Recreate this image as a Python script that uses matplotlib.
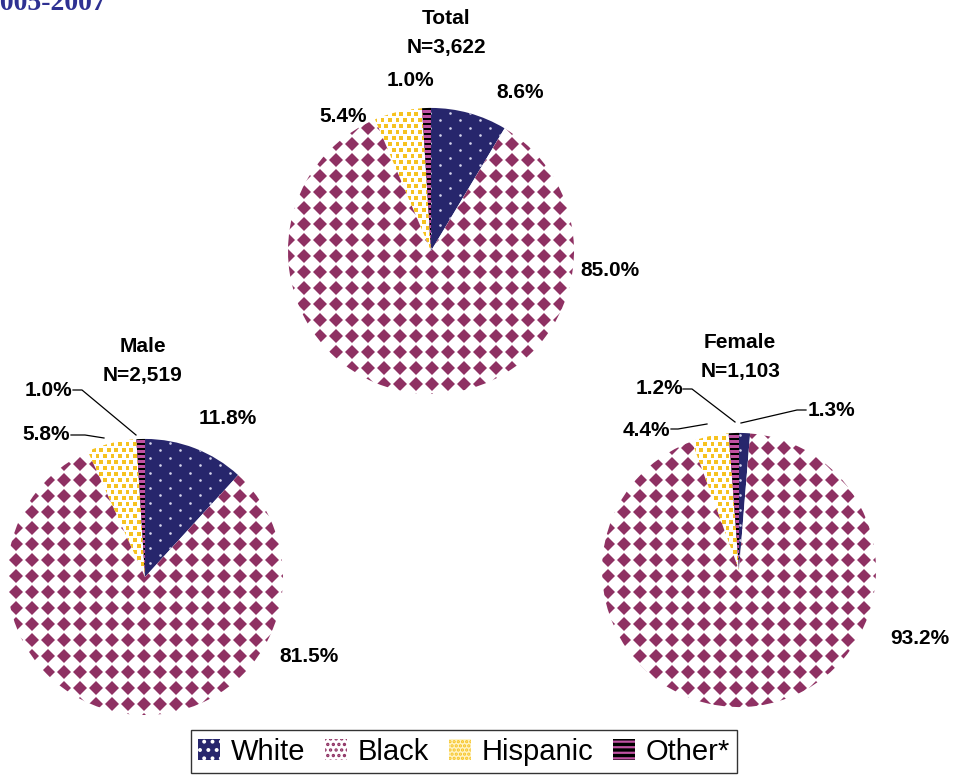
import numpy as np
import matplotlib
matplotlib.use("Agg")
import matplotlib.pyplot as plt
from matplotlib.collections import PolyCollection
from matplotlib.patches import Patch

# Race/ethnicity shares (%) by group, slices ordered clockwise from 12 o'clock
races = ["White", "Black", "Hispanic", "Other*"]
groups = ["Total", "Male", "Female"]
counts = ["3,622", "2,519", "1,103"]
total_pct = [8.6, 85.0, 5.4, 1.0]
male_pct = [11.8, 81.5, 5.8, 1.0]
female_pct = [1.3, 93.2, 4.4, 1.2]

NAVY = "#27266c"
MAROON = "#8f3163"
GOLD = "#f6c21f"
PINK = "#c052a2"

plt.rcParams["font.family"] = ["Liberation Sans", "DejaVu Sans"]
plt.rcParams["hatch.linewidth"] = 1.6

W, H = 956, 776
fig = plt.figure(figsize=(W / 100, H / 100), dpi=100)
ax = fig.add_axes([0, 0, 1, 1])


def lattice(x0, x1, y0, y1, dx, dy, stagger=True):
    pts = []
    for j in np.arange(np.floor(y0 / dy) - 1, np.ceil(y1 / dy) + 2):
        off = (j % 2) * dx / 2 if stagger else 0
        xs = np.arange(np.floor(x0 / dx) - 1, np.ceil(x1 / dx) + 2) * dx + off
        pts += [(x, j * dy) for x in xs]
    return np.array(pts)


def fill_pattern(wedge, race):
    cx, cy = wedge.center
    r = wedge.r
    x0, x1, y0, y1 = cx - r, cx + r, cy - r, cy + r
    if race == "White":
        p = lattice(x0, x1, y0, y1, 20, 7.5)
        art = ax.scatter(p[:, 0], p[:, 1], s=3.5, c="#d4d4ec", linewidths=0, zorder=2)
    elif race == "Black":
        p = lattice(x0, x1, y0, y1, 16, 16, stagger=False)
        h = 7.0
        polys = [[(x - h, y), (x, y - h), (x + h, y), (x, y + h)] for x, y in p]
        art = PolyCollection(polys, facecolors=MAROON, edgecolors="none", zorder=2)
        ax.add_collection(art)
    elif race == "Hispanic":
        p = lattice(x0, x1, y0, y1, 7.5, 6)
        s = 1.8
        polys = [[(x - s, y - s), (x + s, y - s), (x + s, y + s), (x - s, y + s)] for x, y in p]
        art = PolyCollection(polys, facecolors=GOLD, edgecolors="none", zorder=2)
        ax.add_collection(art)
    else:
        ys = np.arange(np.floor(y0 / 5) * 5, y1 + 5, 5)
        polys = [[(x0, y), (x1, y), (x1, y + 2.5), (x0, y + 2.5)] for y in ys]
        art = PolyCollection(polys, facecolors=PINK, edgecolors="none", zorder=2)
        ax.add_collection(art)
    art.set_clip_path(wedge)


face = {"White": NAVY, "Black": "white", "Hispanic": "white", "Other*": "black"}

# layout in pixel units (y downwards)
pies = [(total_pct, (431, 251), 143),
        (male_pct, (145, 577), 138),
        (female_pct, (739, 570), 137)]

for vals, center, rad in pies:
    wedges, _ = ax.pie(vals, center=center, radius=rad, startangle=-90,
                       counterclock=True, explode=[0.06] * 4, frame=True,
                       colors=[face[k] for k in races],
                       wedgeprops=dict(linewidth=0))
    for w, race in zip(wedges, races):
        fill_pattern(w, race)

# group titles
title_pos = [(446, 18, 446, 47), (143, 346, 143, 376), (740, 343, 741, 372)]
for g, n, (tx, ty, nx, ny) in zip(groups, counts, title_pos):
    ax.text(tx, ty, g, ha="center", va="center", fontsize=15, fontweight="bold")
    ax.text(nx, ny, "N=" + n, ha="center", va="center", fontsize=15, fontweight="bold")

# percentage labels
label_pos = [
    [(520, 92), (610, 270), (343, 117), (410, 81)],
    [(228, 419), (309, 656), (46, 435), (48, 390)],
    [(831, 410), (920, 638), (646, 430), (659, 388)],
]
for vals, pos in zip([total_pct, male_pct, female_pct], label_pos):
    for v, (x, y) in zip(vals, pos):
        ax.text(x, y, f"{v:.1f}%", ha="center", va="center", fontsize=15, fontweight="bold")

# leader lines for the thin slices
leaders = [
    [(73, 390), (82, 390), (136, 435)],
    [(71, 435), (85, 435), (104, 438)],
    [(683, 389), (692, 389), (735, 422)],
    [(806, 410), (797, 410), (741, 423)],
    [(671, 429), (678, 429), (707, 424)],
]
for line in leaders:
    xs, ys = zip(*line)
    ax.plot(xs, ys, color="black", lw=0.9, zorder=3)

# cut-off title at the top
ax.text(107, 10, "2005-2007", ha="right", va="baseline", fontsize=20,
        fontweight="bold", family="Liberation Serif", color="#2e3192")

ax.set_xlim(0, W)
ax.set_ylim(H, 0)
ax.set_aspect("auto")
ax.set_axis_off()

handles = [
    Patch(facecolor=NAVY, edgecolor="white", hatch="..", lw=0),
    Patch(facecolor="white", edgecolor=MAROON, hatch="...", lw=0),
    Patch(facecolor="#fff3c4", edgecolor=GOLD, hatch="....", lw=0),
    Patch(facecolor="black", edgecolor=PINK, hatch="---", lw=0),
]
leg = fig.legend(handles, races, loc="lower center", ncol=4,
                 bbox_to_anchor=(464 / W, 3 / H), fontsize=21, frameon=True,
                 fancybox=False, edgecolor="black", handlelength=0.75,
                 handleheight=0.75, handletextpad=0.35, columnspacing=0.7,
                 borderpad=0.25, borderaxespad=0)
leg.get_frame().set_linewidth(1.0)

fig.savefig("out.png", dpi=100)
